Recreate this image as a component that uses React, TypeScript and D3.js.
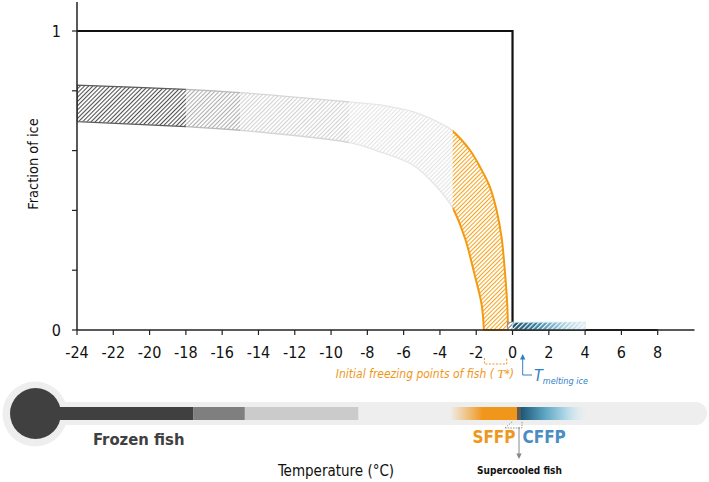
import React from 'react';
import * as d3 from 'd3';

const xTicks = [-24, -22, -20, -18, -16, -14, -12, -10, -8, -6, -4, -2, 0, 2, 4, 6, 8];
const yTicks = [0, 0.2, 0.4, 0.6, 0.8, 1];
const yLabels = [0, 1];

// ice fraction band (upper and lower edges)
const upperT = [-24, -18, -15, -8.85, -7.31, -5.49, -3.63, -3.36, -2.35, -1.8, -1.25, -0.88, -0.6, -0.42, -0.29, -0.25];
const upperF = [0.819, 0.805, 0.794, 0.762, 0.753, 0.73, 0.68, 0.669, 0.602, 0.546, 0.479, 0.401, 0.308, 0.195, 0.084, 0];
const lowerT = [-24, -18, -15, -8.85, -7.31, -5.49, -4.18, -3.3, -2.62, -2.13, -1.7, -1.58];
const lowerF = [0.697, 0.68, 0.668, 0.625, 0.596, 0.552, 0.479, 0.408, 0.307, 0.195, 0.084, 0];

// band segments
const segStart = [-24, -18, -15, -9, -3.3];
const segEnd = [-18, -15, -9, -3.3, 0];
const segHatch = ['#4f4f4f', '#adadad', '#d2d2d2', '#e4e4e4', '#f5a31c'];
const segStroke = ['#5c5c5c', '#b8b8b8', '#d6d6d6', '#e6e6e6', '#f39a12'];
const segStrokeW = [1.3, 1.3, 1.3, 1.3, 2];

// step function of pure water ice
const stepT = [-24, 0, 0, 8];
const stepF = [1, 1, 0, 0];

// supercooled band and small gray cell at 0
const superRange = [0, 4];
const superHeight = 0.026;
const grayCellRange = [-0.27, 0];

// thermometer segments (temperature positions)
const thermoT = [-17.6, -14.75, -8.5];
const thermoColors = ['#404040', '#7f7f7f', '#cbcbcb'];
const gradT = [-3.45, -1.63, 0.23, 0.46, 4.15];

const ORANGE = '#f0961a';
const BLUE = '#2f80c8';
const CFFP_BLUE = '#4a8dc2';
const FONT = "'DejaVu Sans Condensed', 'DejaVu Sans', sans-serif";

export default function App() {
  const x = d3.scaleLinear().domain([-24, 8]).range([77, 657.7]);
  const y = d3.scaleLinear().domain([0, 1]).range([330, 31]);
  const axisEnd = x(10) + 0.5;

  const upper: [number, number][] = upperT.map((t, i) => [x(t), y(upperF[i])]);
  const lower: [number, number][] = lowerT.map((t, i) => [x(t), y(lowerF[i])]);
  const line = d3.line().curve(d3.curveCatmullRom.alpha(0.5));
  const bandPath = (line(upper) as string) + 'L' + (line([...lower].reverse()) as string).slice(1) + 'Z';

  const stepPath = d3.line()(stepT.map((t, i) => [x(t), y(stepF[i])]) as [number, number][]) as string;

  const thermoY = 413.5;
  const barH = 13;
  const thermoX0 = 40;

  return (
    <svg width={709} height={482} style={{ position: 'absolute', left: 0, top: 0, background: '#fff' }}
      fontFamily={FONT} fontStretch="condensed">
      <defs>
        {segHatch.map((c, i) => (
          <pattern key={i} id={`hatch${i}`} patternUnits="userSpaceOnUse" width={3} height={3}
            patternTransform="rotate(45)">
            <rect width={3} height={3} fill="#fff" />
            <line x1={0.5} y1={0} x2={0.5} y2={3} stroke={c} strokeWidth={1.1} />
          </pattern>
        ))}
        <pattern id="hatchWhite" patternUnits="userSpaceOnUse" width={3.4} height={3.4} patternTransform="rotate(45)">
          <line x1={0.6} y1={0} x2={0.6} y2={3.4} stroke="#fff" strokeWidth={1.1} />
        </pattern>
        <pattern id="hatchGray" patternUnits="userSpaceOnUse" width={3} height={3} patternTransform="rotate(45)">
          <rect width={3} height={3} fill="#fff" />
          <line x1={0.5} y1={0} x2={0.5} y2={3} stroke="#777" strokeWidth={1.1} />
        </pattern>
        {segStart.map((s, i) => (
          <clipPath key={i} id={`clip${i}`}>
            <rect x={x(s)} y={0} width={x(segEnd[i]) - x(s)} height={340} />
          </clipPath>
        ))}
        <linearGradient id="superGrad" x1="0" x2="1" y1="0" y2="0">
          <stop offset="0" stopColor="#174a63" />
          <stop offset="0.35" stopColor="#3b86a8" />
          <stop offset="0.7" stopColor="#a7d0e0" />
          <stop offset="1" stopColor="#e3f1f6" />
        </linearGradient>
        <linearGradient id="thermoGrad" gradientUnits="userSpaceOnUse" x1={x(gradT[0])} x2={x(gradT[4])} y1={0} y2={0}>
          {(() => {
            const span = x(gradT[4]) - x(gradT[0]);
            const o = (t: number) => (x(t) - x(gradT[0])) / span;
            return [
              <stop key="a" offset={0} stopColor={ORANGE} stopOpacity={0} />,
              <stop key="a2" offset={o(-2.6)} stopColor={ORANGE} stopOpacity={0.45} />,
              <stop key="b" offset={o(gradT[1])} stopColor={ORANGE} stopOpacity={1} />,
              <stop key="c" offset={o(gradT[2])} stopColor={ORANGE} />,
              <stop key="d" offset={o(gradT[2])} stopColor="#5a5a5a" />,
              <stop key="e" offset={o(gradT[3])} stopColor="#5a5a5a" />,
              <stop key="f" offset={o(gradT[3])} stopColor="#1b5774" />,
              <stop key="g" offset={o(1.8)} stopColor="#5fa6c4" />,
              <stop key="h" offset={o(3)} stopColor="#b5dbe8" />,
              <stop key="i" offset={1} stopColor="#e0eef3" stopOpacity={0} />,
            ];
          })()}
        </linearGradient>
      </defs>

      {/* ice fraction band segments */}
      {segStart.map((s, i) => (
        <g key={i} clipPath={`url(#clip${i})`}>
          <path d={bandPath} fill={`url(#hatch${i})`} stroke={segStroke[i]} strokeWidth={segStrokeW[i]} />
        </g>
      ))}

      {/* step line */}
      <path d={stepPath} fill="none" stroke="#111" strokeWidth={2.2} />

      {/* supercooled band */}
      <rect x={x(grayCellRange[0])} y={y(superHeight)} width={x(grayCellRange[1]) - x(grayCellRange[0])}
        height={y(0) - y(superHeight)} fill="url(#hatchGray)" stroke="#888" strokeWidth={0.8} />
      <rect x={x(superRange[0])} y={y(superHeight)} width={x(superRange[1]) - x(superRange[0])}
        height={y(0) - y(superHeight)} fill="url(#superGrad)" stroke="#c5e2ec" strokeWidth={0.8} />
      <rect x={x(superRange[0])} y={y(superHeight)} width={x(superRange[1]) - x(superRange[0])}
        height={y(0) - y(superHeight)} fill="url(#hatchWhite)" />

      {/* axes */}
      <line x1={x(-24)} x2={x(-24)} y1={2} y2={y(0)} stroke="#222" strokeWidth={1.5} />
      {yTicks.map((v) => (
        <line key={v} x1={x(-24) - 5} x2={x(-24)} y1={y(v)} y2={y(v)} stroke="#222" strokeWidth={1.2} />
      ))}
      {yLabels.map((v) => (
        <text key={v} x={x(-24) - 16} y={y(v)} textAnchor="end" dominantBaseline="central" fontSize={16} fill="#111">{v}</text>
      ))}
      <line x1={x(-24)} x2={axisEnd} y1={y(0)} y2={y(0)} stroke="#222" strokeWidth={1.5} />
      {xTicks.map((v) => (
        <g key={v}>
          <line x1={x(v)} x2={x(v)} y1={y(0)} y2={y(0) + 5} stroke="#222" strokeWidth={1.2} />
          <text x={x(v)} y={352} textAnchor="middle" dominantBaseline="central" fontSize={16} fill="#111">{v}</text>
        </g>
      ))}
      <text transform={`translate(33,${164}) rotate(-90)`} textAnchor="middle" dominantBaseline="central"
        fontSize={14.5} fill="#111">Fraction of ice</text>

      {/* annotations below the axis */}
      <path d={`M${x(-1.55)},358 V364 H${x(-0.32)} V358`} fill="none" stroke={ORANGE} strokeWidth={1} strokeDasharray="2,1.5" />
      <text x={514} y={378} textAnchor="end" fontSize={12} fontStyle="italic" fill={ORANGE}>
        Initial freezing points of fish (<tspan fontFamily="'Liberation Serif', serif" fontStyle="italic" fontSize={13}> T</tspan>*)
      </text>
      <path d="M522.7,358 V375 H532" fill="none" stroke={BLUE} strokeWidth={1} />
      <path d="M522.7,354 L520,359.5 L525.4,359.5 Z" fill={BLUE} />
      <text x={534} y={381} fill={BLUE} fontStyle="italic" fontSize={16}>
        T<tspan fontSize={9} dy={3}>melting ice</tspan>
      </text>

      {/* thermometer */}
      <circle cx={35} cy={414} r={32.5} fill="#eeeeee" />
      <rect x={thermoX0} y={thermoY - 11.5} width={707 - thermoX0} height={23} rx={11.5} fill="#eeeeee" />
      <circle cx={35.5} cy={413.5} r={25.5} fill="#404040" />
      <rect x={thermoX0} y={thermoY - barH / 2} width={x(thermoT[0]) - thermoX0} height={barH} fill={thermoColors[0]} />
      <rect x={x(thermoT[0])} y={thermoY - barH / 2} width={x(thermoT[1]) - x(thermoT[0])} height={barH} fill={thermoColors[1]} />
      <rect x={x(thermoT[1])} y={thermoY - barH / 2} width={x(thermoT[2]) - x(thermoT[1])} height={barH} fill={thermoColors[2]} />
      <rect x={x(gradT[0])} y={thermoY - barH / 2} width={x(gradT[4]) - x(gradT[0])} height={barH} fill="url(#thermoGrad)" />

      <text x={93} y={444.5} fontSize={16.5} fontWeight="bold" fill="#404040">Frozen fish</text>

      <path d="M505,428 L513,421 M505,428 H522 V421" fill="none" stroke="#888" strokeWidth={0.9} strokeDasharray="1.5,1.2" />
      <line x1={519} x2={519} y1={427} y2={455} stroke="#888" strokeWidth={1} />
      <path d="M519,459 L516.3,453.5 L521.7,453.5 Z" fill="#888" />
      <text x={515.5} y={442.5} textAnchor="end" fontSize={17} fontWeight="bold" fill={ORANGE}>SFFP</text>
      <text x={522.5} y={442.5} fontSize={17} fontWeight="bold" fill={CFFP_BLUE}>CFFP</text>
      <text x={519.5} y={474} textAnchor="middle" fontSize={10} fontWeight="bold" fill="#111">Supercooled fish</text>

      <text x={336} y={476} textAnchor="middle" fontSize={15} fill="#111">Temperature (°C)</text>
    </svg>
  );
}
